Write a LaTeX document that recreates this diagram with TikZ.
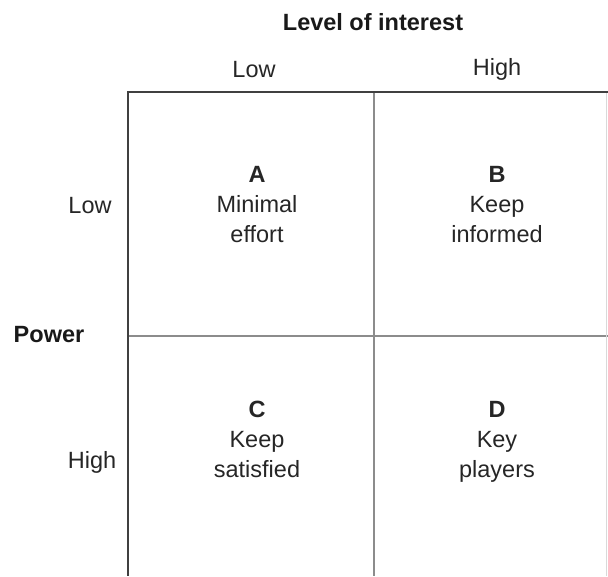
\documentclass[tikz,border=0pt]{standalone}
\usepackage{fontspec}
\setmainfont{Liberation Sans}
\begin{document}
\begin{tikzpicture}[x=1pt,y=-1pt,
  lbl/.style={font=\fontsize{23.5}{30}\selectfont, text=black!85, align=center, inner sep=0pt, anchor=base},
  ttl/.style={font=\fontsize{23.5}{30}\selectfont\bfseries, text=black!90, inner sep=0pt, anchor=base},
  grid/.style={line width=1.6pt, draw=black!75},
  gridlight/.style={line width=1.6pt, draw=black!45}]
\useasboundingbox (0,0) rectangle (608,576);
\fill[white] (0,0) rectangle (608,576);
% axis titles
\node[ttl] (interest) at (373,30) {Level of interest};
\node[ttl] (power) at (49,342) {Power};
% column headers
\node[lbl] (colLow) at (254,77) {Low};
\node[lbl] (colHigh) at (497,75) {High};
% row headers
\node[lbl] (rowLow) at (90,213) {Low};
\node[lbl] (rowHigh) at (92,468) {High};
% grid
\coordinate (tl) at (128,92);
\coordinate (tr) at (608,92);
\coordinate (bl) at (128,576);
\coordinate (tm) at (374,92);
\coordinate (bm) at (374,576);
\coordinate (ml) at (128,336);
\coordinate (mr) at (608,336);
\coordinate (trr) at (606,92);
\coordinate (brr) at (606,576);
\draw[gridlight] (tm) -- (bm);
\draw[gridlight, line width=1.2pt] (ml) -- (mr);
\draw[draw=black!15, line width=0.8pt] (trr) -- (brr);
\draw[grid] (tr) -- (tl) -- (bl);
% cells
\node[lbl] (A) at (257,242) {\textbf{A}\\Minimal\\effort};
\node[lbl] (B) at (497,242) {\textbf{B}\\Keep\\informed};
\node[lbl] (C) at (257,477) {\textbf{C}\\Keep\\satisfied};
\node[lbl] (D) at (497,477) {\textbf{D}\\Key\\players};
\end{tikzpicture}
\end{document}
